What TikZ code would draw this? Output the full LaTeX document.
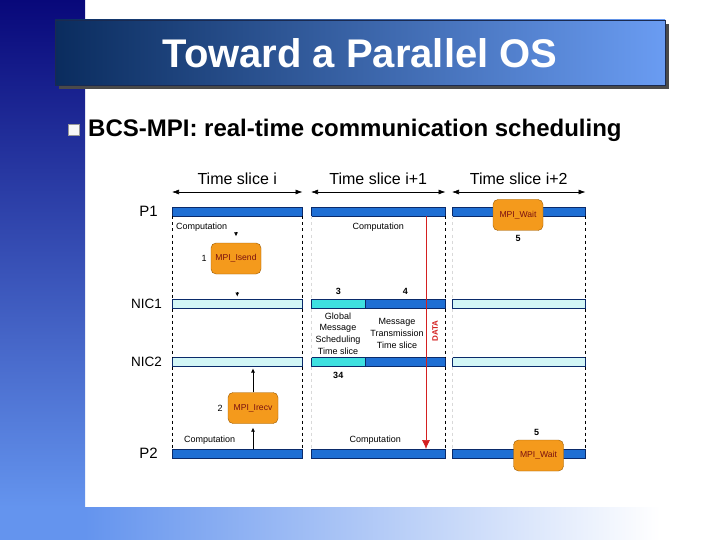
\documentclass[tikz,border=0pt]{standalone}
\usepackage{fontspec}
\setmainfont{Liberation Sans}
\usetikzlibrary{positioning, arrows.meta}

\definecolor{bandtop}{HTML}{08087A}
\definecolor{bandbot}{HTML}{6494EE}
\definecolor{titleleft}{HTML}{0A2C5E}
\definecolor{titleright}{HTML}{6A9CF2}
\definecolor{titleedge}{HTML}{1A2A50}
\definecolor{titleshadow}{HTML}{4A4A4A}
\definecolor{barblue}{HTML}{1F6FD4}
\definecolor{barline}{HTML}{0A2A6A}
\definecolor{nicpale}{HTML}{D2F6F6}
\definecolor{niccyan}{HTML}{3EE0E0}
\definecolor{mpiorange}{HTML}{F49A1C}
\definecolor{mpiedge}{HTML}{9C5A00}
\definecolor{mpitext}{HTML}{7A1010}
\definecolor{datared}{HTML}{D42020}

\begin{document}
\begin{tikzpicture}[
    x=1pt, y=-1pt,
    bar/.style={draw=barline, line width=0.5pt, minimum height=9pt, inner sep=0pt, anchor=north west},
    mpi/.style={draw=mpiedge, fill=mpiorange, rounded corners=5pt, minimum width=50pt, minimum height=31pt, inner sep=0pt, text=mpitext, font=\fontsize{8.6}{9}\selectfont},
    rowlabel/.style={inner sep=0pt, font=\fontsize{15}{16}\selectfont},
    slicelabel/.style={inner sep=0pt, font=\fontsize{16}{18}\selectfont},
    comp/.style={inner sep=0pt, font=\fontsize{9}{10}\selectfont},
    note/.style={inner sep=0pt, align=center, font=\fontsize{9}{11.7}\selectfont},
    num/.style={inner sep=0pt, font=\bfseries\fontsize{9}{10}\selectfont},
    span/.style={{Latex[length=7pt,width=5pt]}-{Latex[length=7pt,width=5pt]}, line width=0.6pt},
    tip/.style={-{Latex[length=4pt,width=4pt]}, line width=0.6pt},
    guide/.style={dashed, line width=0.5pt},
    faintguide/.style={dashed, line width=0.4pt, black!15}
]
\useasboundingbox (0,0) rectangle (720,540);

% Slide background
\fill[white] (0,0) rectangle (720,540);
\shade[top color=bandtop, bottom color=bandbot] (0,0) rectangle (85,507);
\fill[bandbot] (0,507) rectangle (85,540);
\shade[left color=bandbot, right color=white] (85,507) rectangle (660,540);

% Title bar
\fill[titleshadow] (59,24) rectangle (669,89);
\shade[left color=titleleft, right color=titleright, draw=titleedge] (55,20) rectangle (665,85);
\node[inner sep=0pt, text=white, font=\bfseries\fontsize{40}{44}\selectfont] (title) at (360,53) {Toward a Parallel OS};

% Bullet line
\node[draw=black!40, fill=black!3, minimum size=11pt, inner sep=0pt] (bullet) at (74,130) {};
\node[inner sep=0pt, anchor=west, font=\bfseries\fontsize{24}{26}\selectfont] (sub) at (88,130) {BCS-MPI: real-time communication scheduling};

% Process and NIC bars
\foreach \x/\w/\s in {172/130/a, 311/134/b, 452/133/c} {
    \node[bar, fill=barblue, minimum width={\w pt}] (p1\s) at (\x,207) {};
    \node[bar, fill=barblue, minimum width={\w pt}] (p2\s) at (\x,449) {};
}
\foreach \x/\w/\s in {172/130/a, 452/133/c} {
    \node[bar, fill=nicpale, minimum width={\w pt}] (nic1\s) at (\x,299) {};
    \node[bar, fill=nicpale, minimum width={\w pt}] (nic2\s) at (\x,357) {};
}
\node[bar, fill=niccyan, minimum width=54pt] (nic1s) at (311,299) {};
\node[bar, fill=barblue, minimum width=80pt] (nic1t) at (365,299) {};
\node[bar, fill=niccyan, minimum width=54pt] (nic2s) at (311,357) {};
\node[bar, fill=barblue, minimum width=80pt] (nic2t) at (365,357) {};

% Slice boundaries
\draw[guide] (p1a.south west) -- (nic1a.north west) (nic1a.south west) -- (nic2a.north west) (nic2a.south west) -- (p2a.north west);
\draw[guide] (p1a.south east) -- (nic1a.north east) (nic1a.south east) -- (nic2a.north east) (nic2a.south east) -- (p2a.north east);
\draw[faintguide] (p1b.south west) -- (nic1s.north west) (nic1s.south west) -- (nic2s.north west) (nic2s.south west) -- (p2b.north west);
\draw[guide] (p1b.south east) -- (nic1t.north east) (nic1t.south east) -- (nic2t.north east) (nic2t.south east) -- (p2b.north east);
\draw[faintguide] (p1c.south west) -- (nic1c.north west) (nic1c.south west) -- (nic2c.north west) (nic2c.south west) -- (p2c.north west);
\draw[guide] (p1c.south east) -- (nic1c.north east) (nic1c.south east) -- (nic2c.north east) (nic2c.south east) -- (p2c.north east);

% Row labels
\node[rowlabel, left=14pt of p1a] (lp1) {P1};
\node[rowlabel, left=10pt of nic1a, font=\fontsize{13.5}{15}\selectfont] (lnic1) {NIC1};
\node[rowlabel, left=10pt of nic2a, font=\fontsize{13.5}{15}\selectfont] (lnic2) {NIC2};
\node[rowlabel, left=14pt of p2a] (lp2) {P2};

% Time slices
\foreach \s/\t in {a/i, b/i+1, c/i+2} {
    \draw[span] ([yshift=15pt]p1\s.north west) -- ([yshift=15pt]p1\s.north east)
        node[midway, above=7pt, slicelabel] (ts\s) {Time slice \t};
}

% Computation phases
\node[comp, anchor=north west] (comp1a) at ([xshift=4pt,yshift=-6pt]p1a.south west) {Computation};
\node[comp, below=6pt of p1b] (comp1b) {Computation};
\node[comp, anchor=south west] (comp2a) at ([xshift=12pt,yshift=4pt]p2a.north west) {Computation};
\node[comp, above=4pt of p2b, xshift=-3pt] (comp2b) {Computation};

% Slice i: send and receive
\node[mpi] (isend) at (236,258.5) {MPI\_Isend};
\node[num, font=\fontsize{9}{10}\selectfont, left=4pt of isend] (n1) {1};
\draw[tip] ([yshift=11pt]isend.north) -- ([yshift=6.5pt]isend.north);
\draw[tip] ([yshift=7pt]nic1a.north) -- ([yshift=2.5pt]nic1a.north);

\node[mpi] (irecv) at (253,408) {MPI\_Irecv};
\node[num, font=\fontsize{9}{10}\selectfont, left=5pt of irecv] (n2) {2};
\draw[tip] (irecv |- p2a.north) -- ([yshift=-4pt]irecv.south);
\draw[tip] (irecv.north) -- ([yshift=-2pt]irecv |- nic2a.south);

% Slice i+1: scheduling and transmission
\node[num, above=4pt of nic1s] (n3) {3};
\node[num, above=4pt of nic1t] (n4) {4};
\node[note] (sched) at (338,333.5) {Global\\Message\\Scheduling\\Time slice};
\node[note] (trans) at (397,333.5) {Message\\Transmission\\Time slice};
\node[num, below=6pt of nic2s] (n34) {34};

\coordinate (datax) at (426,0);
\draw[datared, line width=0.6pt, -{Latex[length=9pt,width=8pt]}] (datax |- p1b.south) -- (datax |- p2b.north);
\node[inner sep=0pt, rotate=90, text=datared, font=\bfseries\fontsize{8}{9}\selectfont] (data) at (435,331) {DATA};

% Slice i+2: wait
\node[mpi] (wait1) at (518,215) {MPI\_Wait};
\node[num, below=4pt of wait1] (n5a) {5};
\node[mpi] (wait2) at (538.5,455.5) {MPI\_Wait};
\node[num, above=4pt of wait2, xshift=-2pt] (n5b) {5};

\end{tikzpicture}
\end{document}
